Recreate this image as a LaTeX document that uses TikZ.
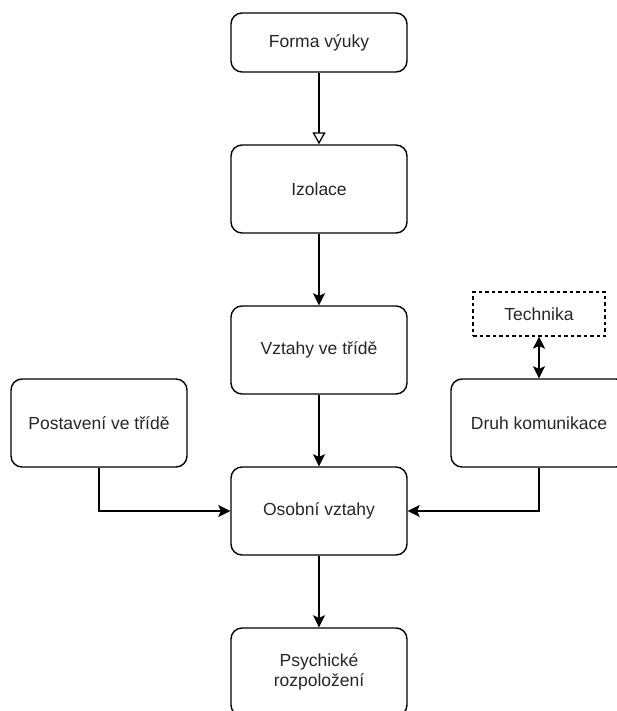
\documentclass[tikz,border=0pt]{standalone}
\usepackage{fontspec}
\setmainfont{Liberation Sans}
\usetikzlibrary{arrows.meta}
\begin{document}
\begin{tikzpicture}[x=1pt,y=-1pt,
  lbl/.style={font=\fontsize{17.5}{20}\selectfont, text=black!85},
  box/.style={lbl, draw, line width=1.4pt, rounded corners=11pt, minimum width=176pt, align=center, inner sep=0pt},
  tbox/.style={lbl, draw, line width=1.1pt, dash pattern=on 3.5pt off 3pt, minimum width=132pt, minimum height=44pt, inner sep=0pt},
  conn/.style={line width=1.4pt, -{Stealth[length=12pt,width=12pt,inset=2.5pt]}},
  dconn/.style={line width=1.4pt, {Stealth[length=12pt,width=12pt,inset=2.5pt]}-{Stealth[length=12pt,width=12pt,inset=2.5pt]}},
  openconn/.style={line width=1.4pt, -{Triangle[open,length=12pt,width=13pt,line width=1.3pt]}}
]
\useasboundingbox (0,0) rectangle (617,711);
\clip (0,0) rectangle (617,711);
\node[box, minimum height=59pt] (forma) at (319,42.5) {Forma výuky};
\node[box, minimum height=88pt] (izol) at (319,189) {Izolace};
\node[box, minimum height=88pt] (vzt) at (319,350) {Vztahy ve třídě};
\node[box, minimum height=88pt] (post) at (99,423) {Postavení ve třídě};
\node[box, minimum height=88pt] (osob) at (319,511) {Osobní vztahy};
\node[box, minimum height=88pt] (druh) at (539,423) {Druh komunikace};
\node[tbox] (tech) at (539,314) {Technika};
\node[box, minimum height=88pt] (psych) at (319,672) {Psychické\\rozpoložení};
\draw[openconn] (forma) -- (izol);
\draw[conn] (izol) -- (vzt);
\draw[conn] (vzt) -- (osob);
\draw[conn] (osob) -- (psych);
\draw[conn] (post.south) |- (osob.west);
\draw[conn] (druh.south) |- (osob.east);
\draw[dconn] (tech) -- (druh);
\end{tikzpicture}
\end{document}
